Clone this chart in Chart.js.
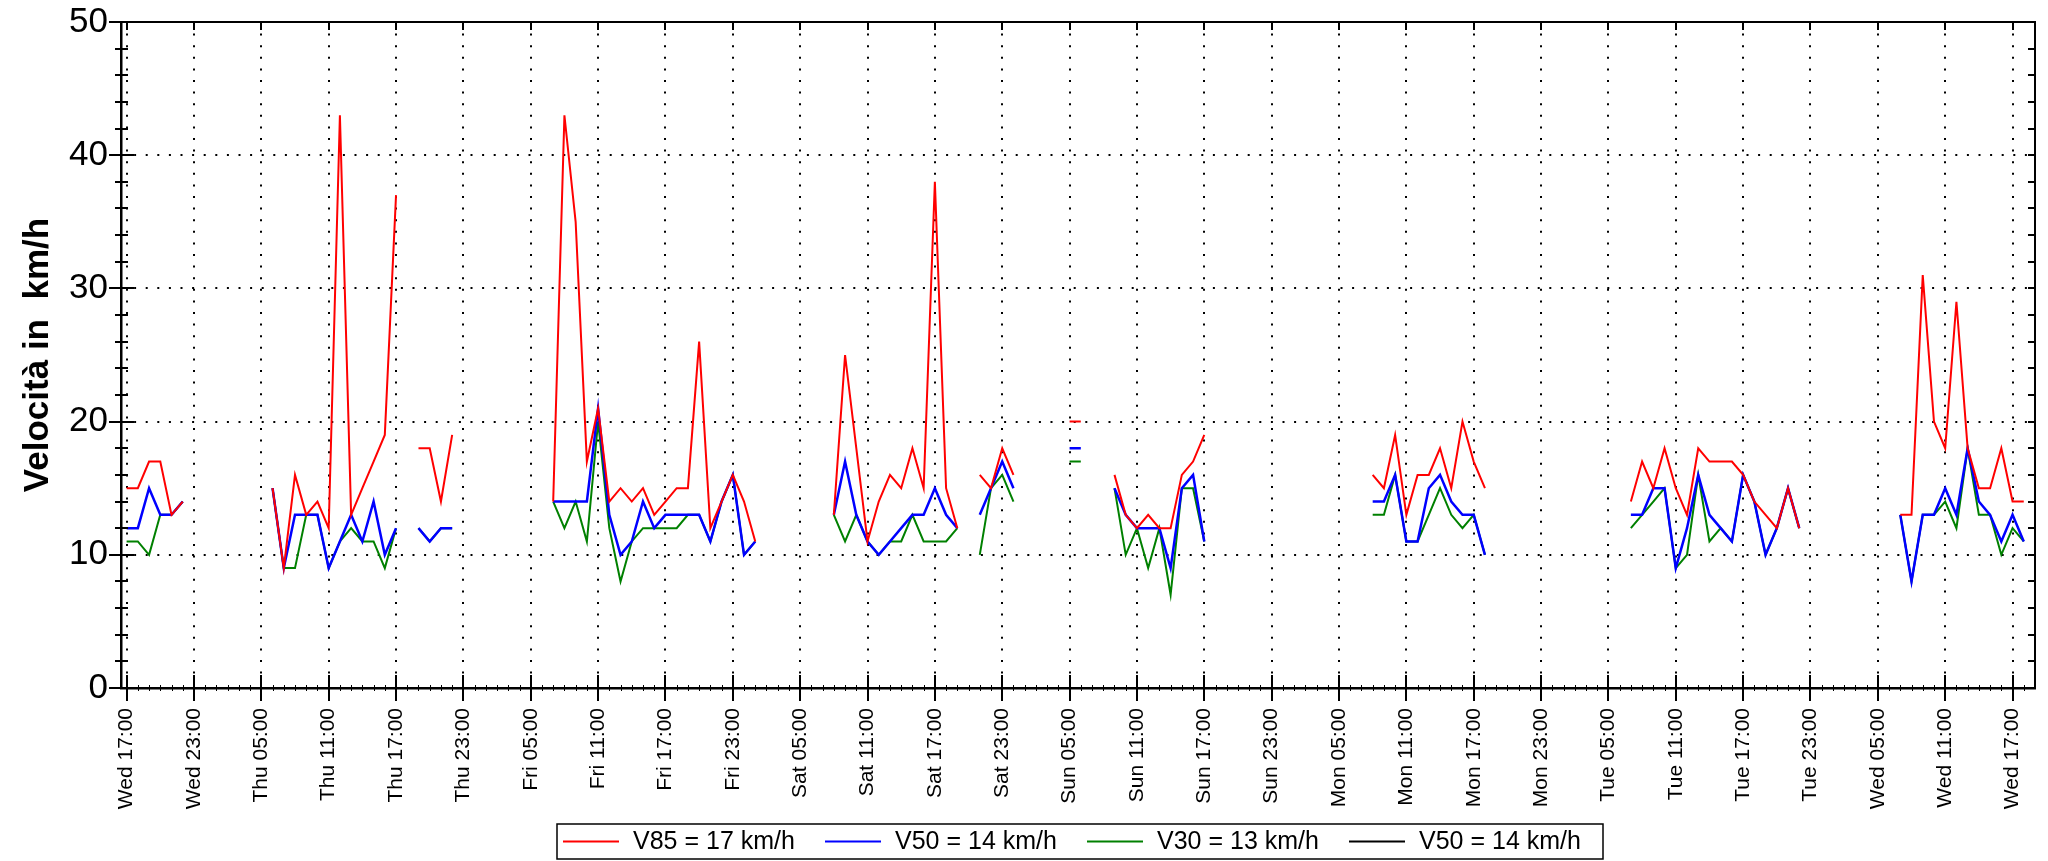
<!DOCTYPE html>
<html>
<head>
<meta charset="utf-8">
<script src="https://cdn.jsdelivr.net/npm/chart.js@4.4.1/dist/chart.umd.min.js"></script>
<style>
  html, body { margin: 0; padding: 0; background: #fff; }
  #wrap { width: 2048px; height: 861px; position: relative; }
</style>
</head>
<body>
<div id="wrap"><canvas id="speedChart"></canvas></div>
<script>
// hours after Wed 17:00 where each run of hourly readings starts
const runStarts = [0, 13, 26, 38, 63, 76, 84, 88, 111, 134, 158];

const v85 = [
  [15, 15, 17, 17, 13, 14],
  [15, 9, 16, 13, 14, 12, 43, 13, 15, 17, 19, 37],
  [18, 18, 14, 19],
  [14, 43, 35, 17, 21, 14, 15, 14, 15, 13, 14, 15, 15, 26, 12, 14, 16, 14, 11],
  [13, 25, 18, 11, 14, 16, 15, 18, 15, 38, 15, 12],
  [16, 15, 18, 16],
  [20, 20],
  [16, 13, 12, 13, 12, 12, 16, 17, 19],
  [16, 15, 19, 13, 16, 16, 18, 15, 20, 17, 15],
  [14, 17, 15, 18, 15, 13, 18, 17, 17, 17, 16, 14, 13, 12, 15, 12],
  [13, 13, 31, 20, 18, 29, 18, 15, 15, 18, 14, 14]
];

const v50 = [
  [12, 12, 15, 13, 13, 14],
  [15, 9, 13, 13, 13, 9, 11, 13, 11, 14, 10, 12],
  [12, 11, 12, 12],
  [14, 14, 14, 14, 21, 13, 10, 11, 14, 12, 13, 13, 13, 13, 11, 14, 16, 10, 11],
  [13, 17, 13, 11, 10, 11, 12, 13, 13, 15, 13, 12],
  [13, 15, 17, 15],
  [18, 18],
  [15, 13, 12, 12, 12, 9, 15, 16, 11],
  [14, 14, 16, 11, 11, 15, 16, 14, 13, 13, 10],
  [13, 13, 15, 15, 9, 12, 16, 13, 12, 11, 16, 14, 10, 12, 15, 12],
  [13, 8, 13, 13, 15, 13, 18, 14, 13, 11, 13, 11]
];

const v30 = [
  [11, 11, 10, 13, 13, 14],
  [15, 9, 9, 13, 13, 9, 11, 12, 11, 11, 9, 12],
  [12, 11, 12, 12],
  [14, 12, 14, 11, 20, 12, 8, 11, 12, 12, 12, 12, 13, 13, 11, 14, 16, 10, 11],
  [13, 11, 13, 11, 10, 11, 11, 13, 11, 11, 11, 12],
  [10, 15, 16, 14],
  [17, 17],
  [15, 10, 12, 9, 12, 7, 15, 15, 11],
  [13, 13, 16, 11, 11, 13, 15, 13, 12, 13, 10],
  [12, 13, 14, 15, 9, 10, 16, 11, 12, 11, 16, 14, 10, 12, 15, 12],
  [13, 8, 13, 13, 14, 12, 18, 13, 13, 10, 12, 11]
];

const tickLabels = [
  'Wed 17:00', 'Wed 23:00', 'Thu 05:00', 'Thu 11:00', 'Thu 17:00', 'Thu 23:00',
  'Fri 05:00', 'Fri 11:00', 'Fri 17:00', 'Fri 23:00', 'Sat 05:00', 'Sat 11:00',
  'Sat 17:00', 'Sat 23:00', 'Sun 05:00', 'Sun 11:00', 'Sun 17:00', 'Sun 23:00',
  'Mon 05:00', 'Mon 11:00', 'Mon 17:00', 'Mon 23:00', 'Tue 05:00', 'Tue 11:00',
  'Tue 17:00', 'Tue 23:00', 'Wed 05:00', 'Wed 11:00', 'Wed 17:00'
];
const yTicks = [0, 10, 20, 30, 40, 50];
const legendLabels = ['V85 = 17 km/h', 'V50 = 14 km/h', 'V30 = 13 km/h', 'V50 = 14 km/h'];

const FONT = '"Liberation Sans", Arial, sans-serif';
Chart.defaults.font.family = FONT;
Chart.defaults.color = '#000';

// hourly runs -> {x, y} with a null between runs so the line breaks
function toPoints(runs) {
  const pts = [];
  runs.forEach((run, i) => {
    if (i > 0) pts.push({ x: runStarts[i] - 0.5, y: null });
    run.forEach((v, j) => pts.push({ x: runStarts[i] + j, y: v }));
  });
  return pts;
}

// top/right frame and the small tick marks around the plot
const framePlugin = {
  id: 'frame',
  afterDraw(chart) {
    const { ctx, chartArea: a, scales: { x, y } } = chart;
    ctx.save();
    ctx.strokeStyle = '#000';
    ctx.lineWidth = 2;
    ctx.beginPath();
    ctx.moveTo(a.left, a.top);
    ctx.lineTo(a.right, a.top);
    ctx.lineTo(a.right, a.bottom);
    ctx.stroke();

    for (let v = 0; v <= 50; v += 2) {
      const py = Math.round(y.getPixelForValue(v));
      const major = v % 10 === 0;
      ctx.beginPath();
      ctx.moveTo(a.left - (major ? 12 : 6), py);
      ctx.lineTo(a.left + (major ? 13 : 7), py);
      ctx.moveTo(a.right - 7, py);
      ctx.lineTo(a.right, py);
      ctx.stroke();
    }

    ctx.lineWidth = 1;
    for (let h = 0; h <= 169; h++) {
      const px = Math.round(x.getPixelForValue(h)) + 0.5;
      ctx.beginPath();
      ctx.moveTo(px, a.bottom - 3);
      ctx.lineTo(px, a.bottom + 3);
      ctx.stroke();
    }
    ctx.lineWidth = 2;
    tickLabels.forEach((_, i) => {
      const px = Math.round(x.getPixelForValue(i * 6));
      ctx.beginPath();
      ctx.moveTo(px, a.bottom - 13);
      ctx.lineTo(px, a.bottom + 13);
      ctx.moveTo(px, a.top);
      ctx.lineTo(px, a.top + 8);
      ctx.stroke();
    });
    ctx.restore();
  }
};

// boxed legend under the axis labels
const legendPlugin = {
  id: 'boxLegend',
  afterDraw(chart) {
    const ctx = chart.ctx;
    const left = 557, top = 824, width = 1046, height = 35, stride = 262;
    const cy = top + height / 2;
    ctx.save();
    ctx.strokeStyle = '#000';
    ctx.lineWidth = 1.5;
    ctx.strokeRect(left, top, width, height);
    ctx.font = '25px ' + FONT;
    ctx.textBaseline = 'middle';
    ctx.fillStyle = '#000';
    chart.data.datasets.forEach((ds, i) => {
      const x0 = left + 6 + i * stride;
      ctx.strokeStyle = ds.borderColor;
      ctx.lineWidth = 2;
      ctx.beginPath();
      ctx.moveTo(x0, cy);
      ctx.lineTo(x0 + 56, cy);
      ctx.stroke();
      ctx.fillText(ds.label, x0 + 70, cy + 1);
    });
    ctx.restore();
  }
};

const gridOpts = { color: '#000', lineWidth: 2, drawTicks: false };
const borderOpts = { display: true, color: '#000', width: 2.5, dash: [2, 9.6] };

new Chart(document.getElementById('speedChart'), {
  type: 'line',
  data: {
    datasets: [
      { label: legendLabels[0], data: toPoints(v85), borderColor: '#ff0000', borderWidth: 2 },
      { label: legendLabels[1], data: toPoints(v50), borderColor: '#0000ff', borderWidth: 2.5 },
      { label: legendLabels[2], data: toPoints(v30), borderColor: '#008000', borderWidth: 2 },
      { label: legendLabels[3], data: [], borderColor: '#000000', borderWidth: 2 }
    ]
  },
  options: {
    responsive: true,
    maintainAspectRatio: false,
    devicePixelRatio: 1,
    animation: false,
    spanGaps: false,
    elements: { point: { radius: 0 }, line: { tension: 0, fill: false } },
    layout: { padding: { top: 22, right: 13, bottom: 48, left: 0 } },
    plugins: { legend: { display: false }, tooltip: { enabled: false } },
    scales: {
      x: {
        type: 'linear',
        min: -0.5,
        max: 170,
        afterBuildTicks: s => { s.ticks = tickLabels.map((_, i) => ({ value: i * 6 })); },
        afterFit: s => {
          s.height = 125;
          s.paddingLeft = 0;
          s.paddingRight = 0;
        },
        grid: gridOpts,
        border: borderOpts,
        ticks: {
          autoSkip: false,
          minRotation: 90,
          maxRotation: 90,
          padding: 20,
          font: { size: 21 },
          callback: (v, i) => tickLabels[i]
        }
      },
      y: {
        min: 0,
        max: 50,
        afterBuildTicks: s => { s.ticks = yTicks.map(v => ({ value: v })); },
        afterFit: s => {
          s.width = 121;
          s.paddingTop = 0;
          s.paddingBottom = 0;
        },
        grid: gridOpts,
        border: borderOpts,
        ticks: { padding: 13, font: { size: 35 } },
        title: {
          display: true,
          text: 'Velocità in  km/h',
          font: { size: 35, weight: 'bold' },
          padding: { top: 17, bottom: 0 }
        }
      }
    }
  },
  plugins: [framePlugin, legendPlugin]
});
</script>
</body>
</html>
